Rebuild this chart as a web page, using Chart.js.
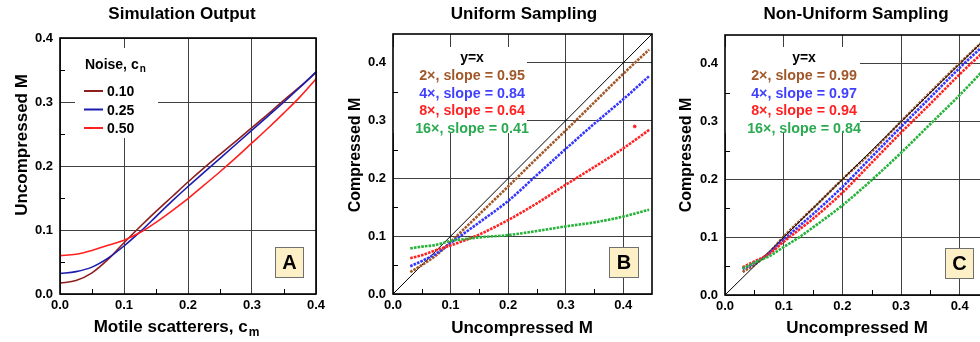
<!DOCTYPE html>
<html><head><meta charset="utf-8">
<script src="https://cdn.jsdelivr.net/npm/chart.js@4"></script>
<style>
html,body{margin:0;padding:0;background:#fff;}
#wrap{position:relative;width:980px;height:342px;overflow:hidden;background:#fff;}
canvas{position:absolute;top:0;}
</style></head><body>
<div id="wrap">
<canvas id="cA" width="330" height="342" style="left:0px"></canvas>
<canvas id="cB" width="330" height="342" style="left:330px"></canvas>
<canvas id="cC" width="340" height="342" style="left:660px"></canvas>
</div>
<script>
// ---------- DATA ----------
// Panel A: Simulation Output
const motileScatterers = [0, 0.025, 0.05, 0.075, 0.1, 0.125, 0.15, 0.175, 0.2, 0.225, 0.25, 0.275, 0.3, 0.325, 0.35, 0.375, 0.4];
const noise010 = [0.017, 0.021, 0.033, 0.054, 0.080, 0.105, 0.129, 0.152, 0.175, 0.197, 0.218, 0.239, 0.260, 0.281, 0.303, 0.324, 0.346];
const noise025 = [0.032, 0.035, 0.042, 0.056, 0.075, 0.097, 0.121, 0.145, 0.168, 0.190, 0.212, 0.234, 0.256, 0.278, 0.300, 0.323, 0.347];
const noise050 = [0.060, 0.062, 0.068, 0.076, 0.084, 0.096, 0.112, 0.130, 0.149, 0.170, 0.191, 0.213, 0.236, 0.259, 0.283, 0.308, 0.336];
const noiseLabels = ['0.10', '0.25', '0.50'];

// Panel B: Uniform Sampling
const uncompB = [0.03, 0.05, 0.075, 0.1, 0.125, 0.15, 0.2, 0.25, 0.3, 0.35, 0.4, 0.445];
const uniform2x  = [0.038, 0.050, 0.067, 0.090, 0.114, 0.138, 0.186, 0.235, 0.283, 0.332, 0.381, 0.423];
const uniform4x  = [0.048, 0.057, 0.070, 0.088, 0.106, 0.124, 0.161, 0.206, 0.251, 0.295, 0.337, 0.377];
const uniform8x  = [0.062, 0.067, 0.076, 0.084, 0.093, 0.103, 0.128, 0.157, 0.189, 0.220, 0.252, 0.284];
const uniform16x = [0.079, 0.082, 0.085, 0.092, 0.095, 0.098, 0.102, 0.109, 0.117, 0.124, 0.134, 0.146];
const uniform8xOutlier = [{x: 0.42, y: 0.29}];
const legendB = ['2×, slope = 0.95', '4×, slope = 0.84', '8×, slope = 0.64', '16×, slope = 0.41'];

// Panel C: Non-Uniform Sampling
const uncompC = [0.03, 0.05, 0.075, 0.1, 0.125, 0.15, 0.2, 0.25, 0.3, 0.35, 0.4, 0.445];
const nonUniform2x  = [0.040, 0.052, 0.073, 0.101, 0.126, 0.150, 0.200, 0.248, 0.300, 0.351, 0.401, 0.444];
const nonUniform4x  = [0.045, 0.055, 0.072, 0.096, 0.118, 0.140, 0.187, 0.239, 0.291, 0.342, 0.393, 0.436];
const nonUniform8x  = [0.048, 0.058, 0.071, 0.092, 0.112, 0.132, 0.177, 0.229, 0.281, 0.331, 0.382, 0.425];
const nonUniform16x = [0.046, 0.056, 0.067, 0.083, 0.099, 0.117, 0.155, 0.199, 0.246, 0.296, 0.346, 0.394];
const legendC = ['2×, slope = 0.99', '4×, slope = 0.97', '8×, slope = 0.94', '16×, slope = 0.84'];

// identity line y = x
const identityX = [0, 0.45];
// ticks
const majorTicks = [0.0, 0.1, 0.2, 0.3, 0.4];
const minorTicks = [0.05, 0.15, 0.25, 0.35];
const panelLetters = ['A', 'B', 'C'];

// ---------- STYLE ----------
const FONT = "'Liberation Sans', Arial, Helvetica, sans-serif";
const colA = ['#8c2020', '#1c1cb0', '#ff2020'];
const colBC = ['#a0582a', '#3535ff', '#ff2222', '#26b33a'];
const legendColBC = ['#a0582a', '#4040ff', '#ff2222', '#2aaa50'];

Chart.defaults.font.family = FONT;
Chart.defaults.animation = false;

function pts(xs, ys) { return xs.map((x, i) => ({x: x, y: ys[i]})); }

function axis(max, isX, fit, pad) {
  return {
    type: 'linear', min: 0, max: max,
    afterFit: s => { if (isX) s.height = fit; else s.width = fit; },
    afterBuildTicks: s => { s.ticks = majorTicks.filter(v => v <= max + 1e-9).map(v => ({value: v})); },
    ticks: { color: '#000', padding: pad, autoSkip: false, maxRotation: 0,
      font: {family: FONT, size: 13, weight: 'bold'},
      callback: v => Number(v).toFixed(1) },
    grid: { color: '#404040', lineWidth: 1, drawTicks: false },
    border: { display: false }
  };
}

function textSub(ctx, main, sub, x, y, size, align) {
  ctx.font = 'bold ' + size + 'px ' + FONT;
  const w1 = ctx.measureText(main).width;
  ctx.font = 'bold ' + Math.round(size * 0.72) + 'px ' + FONT;
  const w2 = sub ? ctx.measureText(sub).width : 0;
  let x0 = align === 'left' ? x : x - (w1 + w2) / 2;
  ctx.textAlign = 'left';
  ctx.textBaseline = 'alphabetic';
  ctx.font = 'bold ' + size + 'px ' + FONT;
  ctx.fillText(main, x0, y);
  if (sub) {
    ctx.font = 'bold ' + Math.round(size * 0.72) + 'px ' + FONT;
    ctx.fillText(sub, x0 + w1 + 1, y + size * 0.22);
  }
}

const decor = {
  id: 'decor',
  beforeDatasetsDraw(chart, args, o) {
    const ctx = chart.ctx;
    ctx.save();
    if (o.legendBox) {
      ctx.fillStyle = '#fff';
      const b = o.legendBox;
      ctx.fillRect(b[0], b[1], b[2] - b[0], b[3] - b[1]);
    }
    ctx.restore();
  },
  afterDatasetsDraw(chart, args, o) {
    const ctx = chart.ctx;
    const a = chart.chartArea;
    const xs = chart.scales.x, ys = chart.scales.y;
    ctx.save();
    // minor ticks (inward)
    ctx.strokeStyle = '#000'; ctx.lineWidth = 1;
    minorTicks.forEach(v => {
      const px = Math.round(xs.getPixelForValue(v)) + 0.5;
      ctx.beginPath(); ctx.moveTo(px, a.bottom); ctx.lineTo(px, a.bottom - 5); ctx.stroke();
      const py = Math.round(ys.getPixelForValue(v)) + 0.5;
      ctx.beginPath(); ctx.moveTo(a.left, py); ctx.lineTo(a.left + 5, py); ctx.stroke();
    });
    // plot frame
    ctx.strokeStyle = '#000'; ctx.lineWidth = 1.6;
    ctx.strokeRect(a.left, a.top, a.right - a.left, a.bottom - a.top);
    // title
    ctx.fillStyle = '#000';
    textSub(ctx, o.title, '', o.titleX, 19, 17);
    // x title
    textSub(ctx, o.xTitle, o.xSub || '', o.xTitleX, o.xTitleY, 17);
    // y title rotated
    ctx.save();
    ctx.translate(o.yTitleX, o.yTitleY);
    ctx.rotate(-Math.PI / 2);
    textSub(ctx, o.yTitle, '', 0, 0, o.yTitleSize || 17);
    ctx.restore();
    // legend
    if (o.legendType === 'A') {
      ctx.fillStyle = '#000';
      textSub(ctx, 'Noise, c', 'n', 85, 68.5, 14, 'left');
      noiseLabels.forEach((lab, i) => {
        const yy = [91, 109.5, 128][i];
        ctx.strokeStyle = colA[i]; ctx.lineWidth = 2;
        ctx.beginPath(); ctx.moveTo(84, yy); ctx.lineTo(103, yy); ctx.stroke();
        ctx.fillStyle = '#000';
        textSub(ctx, lab, '', 107, yy + 5, 14, 'left');
      });
    } else if (o.legendType === 'BC') {
      ctx.fillStyle = '#000';
      textSub(ctx, 'y=x', '', o.legendX, 62, 14);
      o.legendTexts.forEach((t, i) => {
        ctx.fillStyle = legendColBC[i];
        textSub(ctx, t, '', o.legendX, 80 + i * 17.7, 14.3);
      });
    }
    // corner letter box
    const c = o.corner;
    ctx.fillStyle = '#fdefc6';
    ctx.fillRect(c[0], c[1], c[2] - c[0], c[3] - c[1]);
    ctx.strokeStyle = '#707070'; ctx.lineWidth = 1;
    ctx.strokeRect(c[0] + 0.5, c[1] + 0.5, c[2] - c[0] - 1, c[3] - c[1] - 1);
    ctx.fillStyle = '#000';
    ctx.font = 'bold 20px ' + FONT;
    ctx.textAlign = 'center'; ctx.textBaseline = 'middle';
    ctx.fillText(o.letter, (c[0] + c[2]) / 2, (c[1] + c[3]) / 2 + 1);
    ctx.restore();
  }
};

function lineDs(data, color, w) {
  return { data: data, borderColor: color, backgroundColor: color, borderWidth: w,
    pointRadius: 0, showLine: true, fill: false, cubicInterpolationMode: 'monotone' };
}
function dotDs(data, color) {
  return { data: data, borderColor: color, backgroundColor: color, borderWidth: 2.6,
    borderDash: [2.6, 1.1], pointRadius: 0, showLine: true, fill: false, cubicInterpolationMode: 'monotone' };
}

// ---------- Panel A ----------
new Chart(document.getElementById('cA'), {
  type: 'scatter',
  data: { datasets: [
    lineDs(pts(motileScatterers, noise050), colA[2], 1.6),
    lineDs(pts(motileScatterers, noise025), colA[1], 1.6),
    lineDs(pts(motileScatterers, noise010), colA[0], 1.6)
  ]},
  options: {
    responsive: false, devicePixelRatio: 1,
    layout: { padding: { top: 38, right: 14, left: 0, bottom: 0 } },
    scales: { x: axis(0.4, true, 48, 4), y: axis(0.4, false, 60, 7) },
    plugins: { legend: {display: false}, tooltip: {enabled: false},
      decor: { title: 'Simulation Output', titleX: 182,
        xTitle: 'Motile scatterers, c', xSub: 'm', xTitleX: 176, xTitleY: 332,
        yTitle: 'Uncompressed M', yTitleX: 27, yTitleY: 145,
        legendType: 'A', legendBox: [75, 48, 158, 138],
        corner: [275, 247, 304, 278], letter: panelLetters[0] } }
  },
  plugins: [decor]
});

// ---------- Panel B ----------
new Chart(document.getElementById('cB'), {
  type: 'scatter',
  data: { datasets: [
    dotDs(pts(uncompB, uniform16x), colBC[3]),
    dotDs(pts(uncompB, uniform8x), colBC[2]),
    { data: uniform8xOutlier, backgroundColor: colBC[2], borderColor: colBC[2], pointRadius: 1.4, showLine: false },
    dotDs(pts(uncompB, uniform4x), colBC[1]),
    dotDs(pts(uncompB, uniform2x), colBC[0]),
    lineDs(pts(identityX, identityX), '#000', 1)
  ]},
  options: {
    responsive: false, devicePixelRatio: 1,
    layout: { padding: { top: 34, right: 8, left: 0, bottom: 0 } },
    scales: { x: axis(0.45, true, 48, 4), y: axis(0.45, false, 63, 7) },
    plugins: { legend: {display: false}, tooltip: {enabled: false},
      decor: { title: 'Uniform Sampling', titleX: 194,
        xTitle: 'Uncompressed M', xTitleX: 192, xTitleY: 333,
        yTitle: 'Compressed M', yTitleX: 30, yTitleY: 155, yTitleSize: 16,
        legendType: 'BC', legendX: 142, legendTexts: legendB, legendBox: [63, 47, 197, 133],
        corner: [279, 247, 309, 278], letter: panelLetters[1] } }
  },
  plugins: [decor]
});

// ---------- Panel C ----------
new Chart(document.getElementById('cC'), {
  type: 'scatter',
  data: { datasets: [
    dotDs(pts(uncompC, nonUniform16x), colBC[3]),
    dotDs(pts(uncompC, nonUniform8x), colBC[2]),
    dotDs(pts(uncompC, nonUniform4x), colBC[1]),
    lineDs(pts(identityX, identityX), '#000', 1),
    dotDs(pts(uncompC, nonUniform2x), colBC[0])
  ]},
  options: {
    responsive: false, devicePixelRatio: 1,
    layout: { padding: { top: 35, right: 11, left: 0, bottom: 0 } },
    scales: { x: axis(0.45, true, 47, 4), y: axis(0.45, false, 65, 7) },
    plugins: { legend: {display: false}, tooltip: {enabled: false},
      decor: { title: 'Non-Uniform Sampling', titleX: 196,
        xTitle: 'Uncompressed M', xTitleX: 197, xTitleY: 333,
        yTitle: 'Compressed M', yTitleX: 31, yTitleY: 155, yTitleSize: 16,
        legendType: 'BC', legendX: 144, legendTexts: legendC, legendBox: [65, 47, 200, 133],
        corner: [285, 248, 314, 279], letter: panelLetters[2] } }
  },
  plugins: [decor]
});
</script>
</body></html>
